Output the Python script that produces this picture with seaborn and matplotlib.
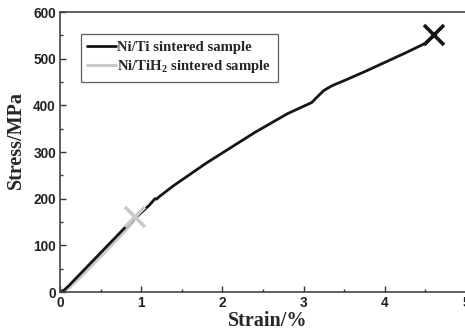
import numpy as np
import pandas as pd
import matplotlib
matplotlib.use("Agg")
import matplotlib.pyplot as plt
import seaborn as sns

# Data
niti_strain = [0, 0.05, 0.1, 0.2, 0.3, 0.4, 0.5, 0.6, 0.7, 0.8, 0.9, 1.0, 1.1, 1.17, 1.19, 1.22,
               1.4, 1.6, 1.8, 2.0, 2.2, 2.4, 2.6, 2.8, 3.0, 3.1, 3.15, 3.25, 3.35, 3.5, 3.75,
               4.0, 4.25, 4.5, 4.6]
niti_stress = [0, 4, 12, 30, 48, 66, 84, 102, 120, 138, 155, 170, 186, 200, 199, 204,
               228, 252, 276, 298, 320, 342, 362, 382, 398, 406, 415, 432, 442, 453, 472,
               492, 512, 533, 548]
nitih2_strain = [0, 0.05, 0.1, 0.2, 0.3, 0.4, 0.5, 0.6, 0.7, 0.8, 0.9, 0.92]
nitih2_stress = [0, 2, 7, 23, 40, 58, 76, 94, 112, 130, 150, 157]
fracture_strain = [4.61, 0.92]
fracture_stress = [551, 160]
labels = ["Ni/Ti sintered sample", "Ni/TiH$_2$ sintered sample"]
colors = ["#151515", "#cacaca"]
x_ticks = [0, 1, 2, 3, 4, 5]
y_ticks = [0, 100, 200, 300, 400, 500, 600]

sns.set_style("ticks")
plt.rcParams["mathtext.fontset"] = "custom"
plt.rcParams["mathtext.rm"] = "Liberation Serif:bold"
plt.rcParams["mathtext.it"] = "Liberation Serif:bold"
plt.rcParams["mathtext.bf"] = "Liberation Serif:bold"
plt.rcParams["mathtext.default"] = "rm"

fig = plt.figure(figsize=(4.65, 3.33), dpi=100)
ax = fig.add_axes([60 / 465, 41 / 333, 406 / 465, 280 / 333])

df1 = pd.DataFrame({"strain": niti_strain, "stress": niti_stress})
df2 = pd.DataFrame({"strain": nitih2_strain, "stress": nitih2_stress})
sns.lineplot(data=df2, x="strain", y="stress", ax=ax, color=colors[1], lw=2.2,
             sort=False, label=labels[1])
sns.lineplot(data=df1, x="strain", y="stress", ax=ax, color=colors[0], lw=2.0,
             sort=False, label=labels[0])
ax.plot([fracture_strain[0]], [fracture_stress[0]], marker="x", ms=14, mew=2.6,
        color=colors[0], ls="none")
ax.plot([fracture_strain[1]], [fracture_stress[1]], marker="x", ms=14, mew=2.6,
        color=colors[1], ls="none")

ax.set_xlim(0, 5)
ax.set_ylim(0, 600)
ax.set_xticks(x_ticks)
ax.set_yticks(y_ticks)
ax.set_xticks([0.5, 1.5, 2.5, 3.5, 4.5], minor=True)
ax.set_yticks([50, 150, 250, 350, 450, 550], minor=True)
ax.tick_params(which="both", direction="in", color="#333333", width=1.0)
ax.tick_params(which="major", length=4)
ax.tick_params(which="minor", length=2.5)
for lab in ax.get_xticklabels() + ax.get_yticklabels():
    lab.set_fontfamily("Liberation Sans")
    lab.set_fontweight("bold")
    lab.set_fontsize(9.8)
    lab.set_color("#222222")
ax.tick_params(axis="x", pad=3)
ax.tick_params(axis="y", pad=3)

for s in ["left", "bottom", "top", "right"]:
    ax.spines[s].set_color("#444444")
    ax.spines[s].set_linewidth(1.2)

ax.set_xlabel("Strain/%", fontfamily="Liberation Serif", fontweight="bold",
              fontsize=14.5)
ax.set_ylabel("Stress/MPa", fontfamily="Liberation Serif", fontweight="bold",
              fontsize=14.5)
ax.xaxis.set_label_coords(0.511, -0.068)
ax.yaxis.set_label_coords(-0.083, 0.543)

h, l = ax.get_legend_handles_labels()
order = [1, 0]
leg = ax.legend([h[i] for i in order], [l[i] for i in order],
                loc="upper left", bbox_to_anchor=(0.051, 0.921),
                prop={"family": "Liberation Serif", "weight": "bold", "size": 10.6},
                frameon=True, fancybox=False, edgecolor="#333333",
                handlelength=1.95, handletextpad=0.08, borderpad=0.45,
                labelspacing=0.3, borderaxespad=0)
leg.get_frame().set_linewidth(0.9)

fig.savefig("out.png", dpi=100)
